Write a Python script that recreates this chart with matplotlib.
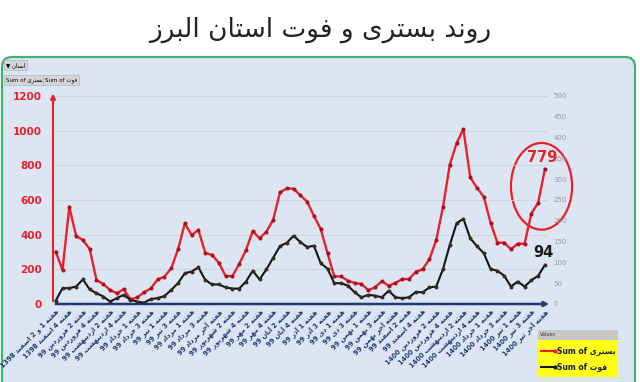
import numpy as np
import matplotlib.pyplot as plt
from matplotlib.patches import Ellipse, FancyBboxPatch, Rectangle
from matplotlib.lines import Line2D

plt.rcParams['font.family'] = ['DejaVu Sans']

# برچسب هفته‌ها (هر دو هفته یک برچسب)
hafte = [
    'هفته 1 و 2 اسفند 1398', 'هفته 4 اسفند 1398', 'هفته 2 فروردین 99', 'هفته 4 فروردین 99',
    'هفته 2 اردیبهشت 99', 'هفته 4 اردیبهشت 99', 'هفته 1 خرداد 99', 'هفته 3 خرداد 99',
    'هفته 1 تیر 99', 'هفته 3 تیر 99', 'هفته 1 مرداد 99', 'هفته 3 مرداد 99',
    'هفته آخر مرداد 99', 'هفته 2 شهریور 99', 'هفته 4 شهریور 99', 'هفته 2 مهر 99',
    'هفته 4 مهر 99', 'هفته 2 آبان 99', 'هفته 4 آبان 99', 'هفته 1 آذر 99',
    'هفته 3 آذر 99', 'هفته 1 دی 99', 'هفته 3 دی 99', 'هفته 1 بهمن 99',
    'هفته 3 بهمن 99', 'هفته آخر بهمن 99', 'هفته 2 اسفند 99', 'هفته 4 اسفند 99',
    'هفته 2 فروردین 1400', 'هفته 4 فروردین 1400', 'هفته 2 اردیبهشت 1400', 'هفته 4 اردیبهشت 1400',
    'هفته 1 خرداد 1400', 'هفته 3 خرداد 1400', 'هفته 1 تیر 1400', 'هفته 3 تیر 1400',
    'هفته آخر تیر 1400',
]

# بستری (محور چپ)
bastari = [302, 196, 561, 392, 369, 317, 138, 115, 81, 62,
           85, 27, 38, 67, 90, 142, 158, 206, 315, 465,
           398, 427, 296, 283, 238, 162, 160, 231, 311, 421,
           379, 417, 485, 644, 667, 665, 627, 591, 508, 433,
           293, 159, 159, 134, 121, 115, 80, 96, 132, 105,
           122, 144, 144, 186, 201, 258, 369, 561, 804, 928,
           1009, 731, 670, 618, 469, 354, 354, 316, 348, 348,
           522, 584, 779]

# فوت (محور راست)
fot = [8, 38, 38, 42, 59, 35, 26, 18, 6, 14,
       22, 10, 6, 3, 12, 14, 19, 34, 50, 74,
       78, 88, 58, 47, 47, 40, 37, 37, 54, 80,
       59, 83, 111, 139, 147, 164, 149, 137, 140, 98,
       85, 50, 50, 44, 28, 16, 22, 20, 16, 32,
       16, 14, 16, 29, 28, 40, 42, 84, 142, 194,
       205, 158, 139, 122, 84, 80, 68, 42, 54, 42,
       57, 68, 94]

# شکل‌دهی ساده حروف فارسی (بدون کتابخانه bidi)
FORMS = {
    'ا': ('\uFE8D', '\uFE8E', None, None),
    'آ': ('\uFE81', '\uFE82', None, None),
    'د': ('\uFEA9', '\uFEAA', None, None),
    'ذ': ('\uFEAB', '\uFEAC', None, None),
    'ر': ('\uFEAD', '\uFEAE', None, None),
    'ز': ('\uFEAF', '\uFEB0', None, None),
    'و': ('\uFEED', '\uFEEE', None, None),
    'ب': ('\uFE8F', '\uFE90', '\uFE91', '\uFE92'),
    'ت': ('\uFE95', '\uFE96', '\uFE97', '\uFE98'),
    'خ': ('\uFEA5', '\uFEA6', '\uFEA7', '\uFEA8'),
    'س': ('\uFEB1', '\uFEB2', '\uFEB3', '\uFEB4'),
    'ش': ('\uFEB5', '\uFEB6', '\uFEB7', '\uFEB8'),
    'ف': ('\uFED1', '\uFED2', '\uFED3', '\uFED4'),
    'ل': ('\uFEDD', '\uFEDE', '\uFEDF', '\uFEE0'),
    'م': ('\uFEE1', '\uFEE2', '\uFEE3', '\uFEE4'),
    'ن': ('\uFEE5', '\uFEE6', '\uFEE7', '\uFEE8'),
    'ه': ('\uFEE9', '\uFEEA', '\uFEEB', '\uFEEC'),
    'ی': ('\uFBFC', '\uFBFD', '\uFBFE', '\uFBFF'),
}


def shape_word(w):
    out = []
    for i, c in enumerate(w):
        if c not in FORMS:
            out.append(c)
            continue
        prev = w[i - 1] if i > 0 else ''
        nxt = w[i + 1] if i + 1 < len(w) else ''
        jp = prev in FORMS and FORMS[prev][2] is not None
        jn = FORMS[c][2] is not None and nxt in FORMS
        if jp and jn:
            out.append(FORMS[c][3])
        elif jp:
            out.append(FORMS[c][1])
        elif jn:
            out.append(FORMS[c][2])
        else:
            out.append(FORMS[c][0])
    return ''.join(out[::-1])


def fa(s):
    words = s.split()[::-1]
    return ' '.join(shape_word(w) if any(ch in FORMS for ch in w) else w for w in words)


RED = '#e8202a'
NAVY = '#1f3a7a'
x = np.arange(len(bastari))

fig = plt.figure(figsize=(6.4, 3.82), dpi=100)
fig.patch.set_facecolor('white')

# قاب سبز پنل
panel = FancyBboxPatch((0.02, -0.3), 6.33, 3.55, boxstyle='round,pad=0,rounding_size=0.1',
                       transform=fig.dpi_scale_trans, fc='#dce6f2', ec='#3db36e', lw=1.6,
                       zorder=-10)
fig.patches.append(panel)

fig.text(0.5, 1 - 30 / 382, fa('روند بستری و فوت استان البرز'), ha='center', va='center',
         fontsize=19, color='#222222')

# دکمه‌های بالا سمت چپ
btn = dict(boxstyle='square,pad=0.35', fc='#d3d6da', ec='#b5b8bc', lw=0.5)
fig.text(6 / 640, 1 - 65 / 382, '\u25BC ' + fa('استان'), fontsize=4, va='center', bbox=btn)
fig.text(6 / 640, 1 - 80 / 382, 'Sum of ' + fa('بستری'), fontsize=4, va='center', bbox=btn)
fig.text(45 / 640, 1 - 80 / 382, 'Sum of ' + fa('فوت'), fontsize=4, va='center', bbox=btn)

ax = fig.add_axes([53 / 640, 78 / 382, 495 / 640, 208 / 382])
ax.set_facecolor('none')
ax.plot(x, bastari, color=RED, lw=1.7, marker='o', ms=1.9, mfc='#a8121c', mec='#a8121c', zorder=3)
ax.set_xlim(-0.4, 72.45)
ax.set_ylim(0, 1200)
ax.set_yticks(range(0, 1201, 200))
ax.tick_params(axis='y', length=0, pad=8, labelcolor=RED, labelsize=7.5)
for t in ax.get_yticklabels():
    t.set_fontweight('bold')
ax.grid(axis='y', color='#c9d3df', lw=0.6)
ax.set_xticks(x[::2])
ax.set_xticklabels([fa(h) for h in hafte], rotation=45, ha='right', rotation_mode='anchor',
                   fontsize=4.8, fontweight='bold', color=NAVY)
ax.tick_params(axis='x', length=0, pad=3)
for s in ax.spines.values():
    s.set_visible(False)

ax2 = ax.twinx()
ax2.plot(x, fot, color='#141414', lw=1.5, marker='o', ms=1.8, mfc='#3a2a20', mec='#3a2a20', zorder=3)
ax2.set_ylim(0, 500)
ax2.set_yticks(range(0, 501, 50))
ax2.tick_params(axis='y', length=0, pad=4, labelcolor='#9a9a9a', labelsize=5)
for s in ax2.spines.values():
    s.set_visible(False)

# محورها با فلش
ax.annotate('', xy=(0, 1.025), xytext=(0, 0), xycoords='axes fraction',
            arrowprops=dict(arrowstyle='-|>', color=RED, lw=1.5, mutation_scale=7),
            annotation_clip=False)
ax.annotate('', xy=(1.008, 0), xytext=(0, 0), xycoords='axes fraction',
            arrowprops=dict(arrowstyle='-|>', color=NAVY, lw=1.8, mutation_scale=7),
            annotation_clip=False, zorder=5)

ax.annotate(str(bastari[-1]), (x[-1], bastari[-1]), xytext=(-2, 8), textcoords='offset points',
            ha='center', va='center', color=RED, fontsize=10.5, fontweight='bold')
ax2.annotate(str(fot[-1]), (x[-1], fot[-1]), xytext=(-1, 9), textcoords='offset points',
             ha='center', va='center', color='#1a1a1a', fontsize=10.5, fontweight='bold')
ax.add_patch(Ellipse((x[-1] - 0.5, bastari[-1] - 100), 9, 500, fill=False, ec=RED, lw=1.6,
                     clip_on=False))

# راهنما
lx, ly, lw_, lh = 538 / 640, 5 / 382, 80 / 640, 47 / 382
fig.patches.append(Rectangle((lx, ly), lw_, lh, transform=fig.transFigure, fc='#ffff1a', ec='none'))
fig.patches.append(Rectangle((lx, ly + lh - 10 / 382), lw_, 10 / 382, transform=fig.transFigure,
                             fc='#c8c8c8', ec='none'))
fig.text(lx + 2 / 640, ly + lh - 5 / 382, 'Values', fontsize=3.5, va='center', color='#333333')
for yy, col, lab in [(ly + lh - 21 / 382, RED, 'Sum of ' + fa('بستری')),
                     (ly + lh - 37 / 382, '#141414', 'Sum of ' + fa('فوت'))]:
    fig.lines.append(Line2D([lx + 3 / 640, lx + 17 / 640], [yy, yy], transform=fig.transFigure,
                            color=col, lw=1.5, marker='o', ms=2, markevery=[1]))
    fig.text(lx + 19 / 640, yy, lab, fontsize=5.5, fontweight='bold', va='center', color='#1a1a40')

fig.savefig('out.png', dpi=100)
